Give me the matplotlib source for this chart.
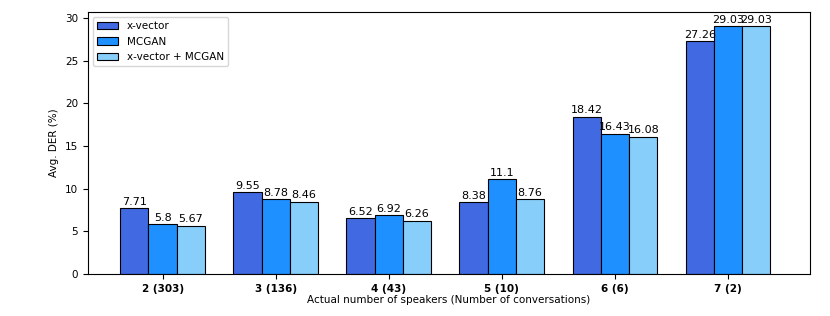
import numpy as np
import matplotlib.pyplot as plt

# Data
groups = ['2 (303)', '3 (136)', '4 (43)', '5 (10)', '6 (6)', '7 (2)']
xvector = [7.71, 9.55, 6.52, 8.38, 18.42, 27.26]
mcgan = [5.8, 8.78, 6.92, 11.1, 16.43, 29.03]
combined = [5.67, 8.46, 6.26, 8.76, 16.08, 29.03]

series = [
    ('x-vector', xvector, 'royalblue'),
    ('MCGAN', mcgan, 'dodgerblue'),
    ('x-vector + MCGAN', combined, 'lightskyblue'),
]

fig, ax = plt.subplots(figsize=(8.3, 3.16), dpi=100)
fig.subplots_adjust(left=0.106, right=0.976, top=0.962, bottom=0.133)

x = np.arange(len(groups))
width = 0.25
for i, (label, vals, color) in enumerate(series):
    bars = ax.bar(x + (i - 1) * width, vals, width, label=label,
                  color=color, edgecolor='black', linewidth=0.8)
    ax.bar_label(bars, labels=[f"{v:g}" for v in vals], fontsize=8, padding=1)

ax.set_xticks(x)
ax.set_xticklabels(groups, fontsize=7.5, fontweight='bold')
ax.tick_params(axis='y', labelsize=7.5)
ax.set_xlim(-0.66, 5.725)
ax.set_ylim(0, 30.7)
ax.set_xlabel('Actual number of speakers (Number of conversations)', fontsize=7.5, labelpad=1)
ax.set_ylabel('Avg. DER (%)', fontsize=7.5)
ax.legend(loc='upper left', fontsize=7.5)

plt.savefig('out.png', dpi=100)
